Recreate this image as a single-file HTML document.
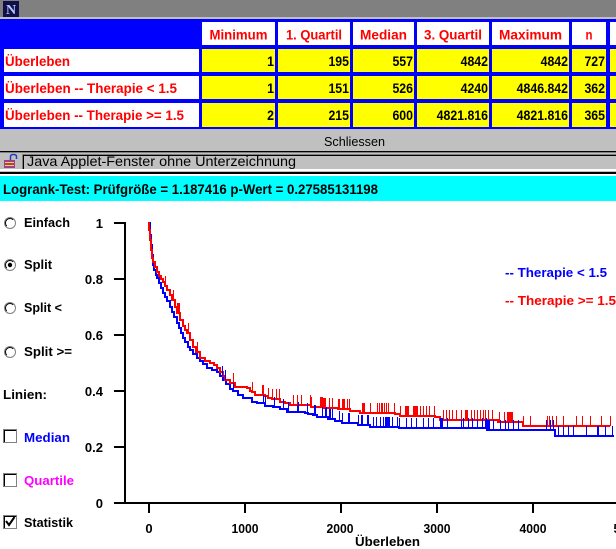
<!DOCTYPE html>
<html><head><meta charset="utf-8"><style>
html,body{margin:0;padding:0;background:#fff;width:616px;height:549px;overflow:hidden}
svg{display:block}
text{font-family:"Liberation Sans",Arial,sans-serif}
.b{font-weight:bold}
</style></head><body>
<svg id="s" width="616" height="549" viewBox="0 0 616 549" xmlns="http://www.w3.org/2000/svg" shape-rendering="crispEdges">
<rect width="616" height="549" fill="#fff"/>
<!-- title bar -->
<rect x="0" y="0" width="616" height="17" fill="#808080"/>
<rect x="0" y="17" width="616" height="2" fill="#c0c0c0"/>
<rect x="3" y="1" width="16" height="16" fill="#101048"/>
<text x="11" y="14" text-anchor="middle" font-size="14" font-weight="bold" fill="#b8c8ff" style="font-family:'Liberation Serif',serif">N</text>
<!-- table -->
<rect x="0" y="19" width="616" height="110" fill="#0000ff"/>
<g fill="#fff">
<rect x="202" y="22" width="73" height="23"/>
<rect x="278" y="22" width="72" height="23"/>
<rect x="353" y="22" width="61" height="23"/>
<rect x="417" y="22" width="72" height="23"/>
<rect x="492" y="22" width="77" height="23"/>
<rect x="572" y="22" width="34" height="23"/>
<rect x="610" y="22" width="6" height="23"/>
<rect x="4" y="49" width="195" height="23"/>
<rect x="4" y="76" width="195" height="23"/>
<rect x="4" y="103" width="195" height="24"/>
</g>
<g fill="#ffff00">
<rect x="202" y="49" width="73" height="23"/><rect x="278" y="49" width="72" height="23"/><rect x="353" y="49" width="61" height="23"/><rect x="417" y="49" width="72" height="23"/><rect x="492" y="49" width="77" height="23"/><rect x="572" y="49" width="34" height="23"/><rect x="610" y="49" width="6" height="23"/>
<rect x="202" y="76" width="73" height="23"/><rect x="278" y="76" width="72" height="23"/><rect x="353" y="76" width="61" height="23"/><rect x="417" y="76" width="72" height="23"/><rect x="492" y="76" width="77" height="23"/><rect x="572" y="76" width="34" height="23"/><rect x="610" y="76" width="6" height="23"/>
<rect x="202" y="103" width="73" height="24"/><rect x="278" y="103" width="72" height="24"/><rect x="353" y="103" width="61" height="24"/><rect x="417" y="103" width="72" height="24"/><rect x="492" y="103" width="77" height="24"/><rect x="572" y="103" width="34" height="24"/><rect x="610" y="103" width="6" height="24"/>
</g>
<g class="b" font-size="14" fill="#ff0000" text-anchor="middle">
<text x="238.5" y="39.5" textLength="58" lengthAdjust="spacingAndGlyphs">Minimum</text>
<text x="314" y="39.5" textLength="56" lengthAdjust="spacingAndGlyphs">1. Quartil</text>
<text x="383.5" y="39.5" textLength="47" lengthAdjust="spacingAndGlyphs">Median</text>
<text x="453" y="39.5" textLength="58" lengthAdjust="spacingAndGlyphs">3. Quartil</text>
<text x="530.5" y="39.5" textLength="63" lengthAdjust="spacingAndGlyphs">Maximum</text>
<text x="589" y="39.5" textLength="7" lengthAdjust="spacingAndGlyphs">n</text>
</g>
<g class="b" font-size="14" fill="#ff0000">
<text x="5" y="66" textLength="65" lengthAdjust="spacingAndGlyphs">Überleben</text>
<text x="5" y="93" textLength="172" lengthAdjust="spacingAndGlyphs">Überleben -- Therapie &lt; 1.5</text>
<text x="5" y="120" textLength="179" lengthAdjust="spacingAndGlyphs">Überleben -- Therapie &gt;= 1.5</text>
</g>
<g class="b" font-size="14" fill="#000" text-anchor="end">
<text transform="translate(274,66) scale(0.88,1)">1</text>
<text transform="translate(349,66) scale(0.88,1)">195</text>
<text transform="translate(413,66) scale(0.88,1)">557</text>
<text transform="translate(488,66) scale(0.88,1)">4842</text>
<text transform="translate(568,66) scale(0.88,1)">4842</text>
<text transform="translate(605,66) scale(0.88,1)">727</text>
<text transform="translate(274,93) scale(0.88,1)">1</text>
<text transform="translate(349,93) scale(0.88,1)">151</text>
<text transform="translate(413,93) scale(0.88,1)">526</text>
<text transform="translate(488,93) scale(0.88,1)">4240</text>
<text transform="translate(568,93) scale(0.88,1)">4846.842</text>
<text transform="translate(605,93) scale(0.88,1)">362</text>
<text transform="translate(274,120) scale(0.88,1)">2</text>
<text transform="translate(349,120) scale(0.88,1)">215</text>
<text transform="translate(413,120) scale(0.88,1)">600</text>
<text transform="translate(488,120) scale(0.88,1)">4821.816</text>
<text transform="translate(568,120) scale(0.88,1)">4821.816</text>
<text transform="translate(605,120) scale(0.88,1)">365</text>
</g>
<!-- Schliessen band -->
<rect x="0" y="129" width="616" height="22" fill="#c0c0c0"/>
<text x="324" y="146" font-size="13" fill="#000" textLength="61" lengthAdjust="spacingAndGlyphs">Schliessen</text>
<rect x="0" y="151" width="616" height="1" fill="#000"/>
<rect x="0" y="152" width="616" height="1" fill="#808080"/>
<rect x="0" y="153" width="616" height="16" fill="#c0c0c0"/>
<!-- java icon -->
<rect x="4" y="160" width="11" height="8" fill="#a04080"/>
<rect x="5" y="162" width="9" height="1" fill="#ffd040"/>
<rect x="5" y="165" width="9" height="1" fill="#ffd040"/>
<path d="M10.5,160 V156.5 Q10.5,154.5 13.5,154.5 Q16.5,154.5 16.5,156.5 V159" fill="none" stroke="#2040c0" stroke-width="1.5" shape-rendering="auto"/>
<rect x="22" y="154" width="594" height="1" fill="#808080"/>
<rect x="22" y="154" width="1" height="15" fill="#808080"/>
<rect x="23" y="155" width="593" height="1" fill="#000"/>
<rect x="23" y="155" width="1" height="14" fill="#000"/>
<text x="27" y="166" font-size="14" fill="#000" textLength="269" lengthAdjust="spacingAndGlyphs">Java Applet-Fenster ohne Unterzeichnung</text>
<rect x="0" y="169" width="616" height="2" fill="#fff"/>
<rect x="0" y="171" width="616" height="1" fill="#c0c0c0"/>
<rect x="0" y="172" width="616" height="2" fill="#000"/>
<rect x="0" y="174" width="616" height="2" fill="#fff"/>
<!-- cyan bar -->
<rect x="0" y="176" width="616" height="25" fill="#00ffff"/>
<text class="b" x="3" y="194" font-size="14" fill="#000" textLength="375" lengthAdjust="spacingAndGlyphs">Logrank-Test:  Prüfgröße = 1.187416 p-Wert = 0.27585131198</text>

<!-- left panel -->
<g shape-rendering="auto">
<g fill="#fff" stroke="#808080" stroke-width="1">
<circle cx="10" cy="223" r="5.5"/><circle cx="10" cy="265" r="5.5"/><circle cx="10" cy="308" r="5.5"/><circle cx="10" cy="352" r="5.5"/>
</g>
<g fill="none" stroke="#000" stroke-width="1">
<path d="M6.8,226.2 A4.5,4.5 0 0 1 13.2,219.8"/>
<path d="M6.8,268.2 A4.5,4.5 0 0 1 13.2,261.8"/>
<path d="M6.8,311.2 A4.5,4.5 0 0 1 13.2,304.8"/>
<path d="M6.8,355.2 A4.5,4.5 0 0 1 13.2,348.8"/>
</g>
<circle cx="10" cy="265" r="2.2" fill="#000"/>
</g>
<g fill="#fff" stroke="#808080" stroke-width="1">
<rect x="3.5" y="429.5" width="13" height="13"/>
<rect x="3.5" y="473.5" width="13" height="13"/>
<rect x="3.5" y="515.5" width="13" height="13"/>
</g>
<g fill="none" stroke="#000" stroke-width="1">
<path d="M4.5,442 V430.5 H16"/>
<path d="M4.5,486 V474.5 H16"/>
<path d="M4.5,528 V516.5 H16"/>
</g>
<path d="M6,521 L9,525 L14.5,517" fill="none" stroke="#000" stroke-width="2" shape-rendering="auto"/>
<g class="b" font-size="13">
<text x="24" y="227" textLength="46" lengthAdjust="spacingAndGlyphs">Einfach</text>
<text x="24" y="269" textLength="28" lengthAdjust="spacingAndGlyphs">Split</text>
<text x="24" y="312" textLength="38" lengthAdjust="spacingAndGlyphs">Split &lt;</text>
<text x="24" y="356" textLength="48" lengthAdjust="spacingAndGlyphs">Split &gt;=</text>
<text x="3" y="399" textLength="44" lengthAdjust="spacingAndGlyphs">Linien:</text>
<text x="24" y="442" fill="#0000ff" textLength="46" lengthAdjust="spacingAndGlyphs">Median</text>
<text x="24" y="485" fill="#ff00ff" textLength="50" lengthAdjust="spacingAndGlyphs">Quartile</text>
<text x="24" y="527" textLength="49" lengthAdjust="spacingAndGlyphs">Statistik</text>
</g>

<!-- axes -->
<rect x="124" y="222" width="2" height="282" fill="#000"/>
<rect x="114" y="502" width="502" height="2" fill="#000"/>
<g fill="#000">
<rect x="114" y="222" width="11" height="2"/>
<rect x="114" y="278" width="11" height="2"/>
<rect x="114" y="334" width="11" height="2"/>
<rect x="114" y="390" width="11" height="2"/>
<rect x="114" y="446" width="11" height="2"/>
<rect x="148" y="503" width="2" height="10"/>
<rect x="244" y="503" width="2" height="10"/>
<rect x="340" y="503" width="2" height="10"/>
<rect x="436" y="503" width="2" height="10"/>
<rect x="532" y="503" width="2" height="10"/>
</g>
<g class="b" font-size="13" text-anchor="end">
<text x="103" y="228">1</text>
<text x="103" y="284">0.8</text>
<text x="103" y="340">0.6</text>
<text x="103" y="396">0.4</text>
<text x="103" y="452">0.2</text>
<text x="103" y="508">0</text>
</g>
<g class="b" font-size="13" text-anchor="middle">
<text x="149" y="533">0</text>
<text x="245" y="533" textLength="27" lengthAdjust="spacingAndGlyphs">1000</text>
<text x="340" y="533" textLength="27" lengthAdjust="spacingAndGlyphs">2000</text>
<text x="437" y="533" textLength="27" lengthAdjust="spacingAndGlyphs">3000</text>
<text x="533" y="533" textLength="27" lengthAdjust="spacingAndGlyphs">4000</text>
<text x="627" y="533" textLength="27" lengthAdjust="spacingAndGlyphs">5000</text>
</g>
<text class="b" x="355" y="546" font-size="13" textLength="65" lengthAdjust="spacingAndGlyphs">Überleben</text>

<!-- legend -->
<text class="b" x="505" y="277" font-size="13" fill="#0000ff" textLength="102" lengthAdjust="spacingAndGlyphs">-- Therapie &lt; 1.5</text>
<text class="b" x="505" y="305" font-size="13" fill="#ff0000" textLength="111" lengthAdjust="spacingAndGlyphs">-- Therapie &gt;= 1.5</text>

<!-- curves -->
<path id="blue" fill="none" stroke="#0000ff" stroke-width="2" d="M148,223 H150 V235 H151 V245 H152 V255 H153 V265 H154 V270 H156 V275 H157 V278 H159 V283 H161 V288 H163 V293 H165 V297 H167 V301 H170 V307 H172 V312 H174 V317 H177 V323 H179 V328 H181 V333 H183 V338 H185 V342 H188 V347 H190 V350 H193 V354 H197 V358 H200 V361 H203 V364 H207 V368 H212 V370 H217 V372 H220 V376 H223 V380 H226 V384 H230 V389 H233 V391 H238 V395 H243 V398 H252 V402 H257 V403 H265 V406 H273 V407 H280 V409 H287 V412 H305 V413 H308 V414 H313 V415 H317 V417 H328 V419 H335 V421 H342 V423 H358 V425 H370 V427 H399 V428 H487 V430 H555 V436 H614"/>
<path id="red" fill="none" stroke="#ff0000" stroke-width="2" d="M148,223 H149 V230 H150 V240 H151 V250 H152 V258 H153 V262 H155 V267 H157 V272 H159 V276 H161 V279 H163 V282 H165 V286 H167 V290 H170 V295 H172 V300 H175 V307 H177 V313 H180 V320 H183 V326 H185 V330 H187 V333 H190 V340 H193 V347 H196 V352 H200 V358 H205 V361 H210 V363 H214 V365 H217 V368 H220 V372 H223 V376 H225 V380 H230 V383 H235 V387 H247 V388 H250 V391 H252 V392 H255 V395 H265 V396 H268 V398 H272 V399 H280 V402 H285 V403 H290 V405 H311 V407 H323 V408 H338 V409 H350 V411 H360 V413 H395 V414 H400 V416 H435 V417 H440 V420 H498 V422 H523 V426 H610"/>
<path id="bt" fill="none" stroke="#0000ff" stroke-width="1"/>
<path id="rt" fill="none" stroke="#ff0000" stroke-width="1"/>
</svg>
<script>
(function(){
function parse(d){var t=d.replace(/[MHV,]/g,function(m){return ' '+m+' ';}).trim().split(/\s+/);var x=0,y=0,pts=[],i=0;while(i<t.length){var c=t[i++];if(c==='M'){x=+t[i++];i++;y=+t[i++];pts.push([x,y]);}else if(c==='H'){x=+t[i++];}else if(c==='V'){y=+t[i++];pts.push([x,y]);}}return pts;}
function yAt(pts,x){var y=pts[0][1];for(var i=0;i<pts.length;i++){if(pts[i][0]<=x)y=pts[i][1];else break;}return y;}
var bp=parse(document.getElementById('blue').getAttribute('d'));
var rp=parse(document.getElementById('red').getAttribute('d'));
var bx=[222,225,233,263,265,274,283,288,297,298,307,314,315,322,325,326,329,330,332,339,342,348,349,358,361,362,367,368,373,376,380,383,385,386,387,388,389,392,397,399,406,411,416,423,428,433,440,441,442,447,461,463,468,472,477,482,485,486,487,488,489,493,500,505,508,513,518,546,550,553,558,563,568,573,586,597,598,605,612];
var rx=[165,173,177,178,179,188,197,233,252,262,263,268,272,276,279,293,297,301,310,311,320,321,322,323,324,325,329,332,338,339,342,343,344,347,349,362,363,364,370,377,379,381,382,384,386,388,394,400,405,406,407,408,413,414,415,416,417,420,423,426,429,434,443,446,449,452,456,461,465,466,467,471,474,477,480,483,485,488,492,499,504,507,508,509,510,511,512,523,530,547,549,552,556,563,576,582,590,601,610];
function build(xs,pts){var d='';xs.forEach(function(x){var y=yAt(pts,x);d+='M'+(x+0.5)+','+y+'V'+(y-10)+' ';});return d;}
document.getElementById('bt').setAttribute('d',build(bx,bp));
document.getElementById('rt').setAttribute('d',build(rx,rp));
})();
</script>
</body></html>
